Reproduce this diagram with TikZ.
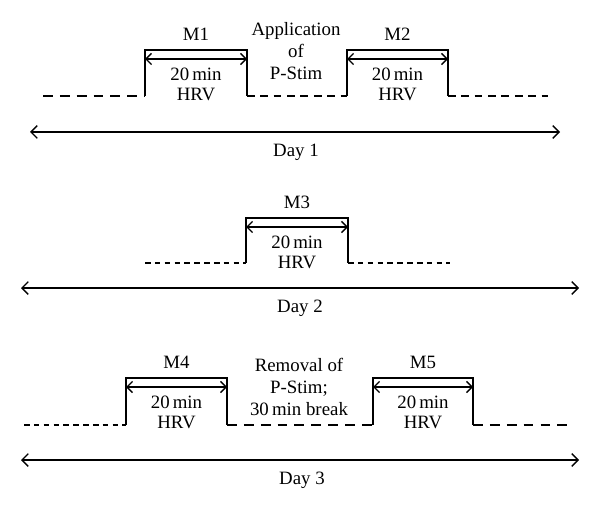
\documentclass[tikz,border=0pt]{standalone}
\usepackage{fontspec}
\setmainfont{Liberation Serif}
\usetikzlibrary{arrows.meta}

\tikzset{
	pulse/.style={line width=1pt},
	window/.style={line width=0.9pt, {Straight Barb[length=4pt,width=8pt]}-{Straight Barb[length=4pt,width=8pt]}},
	timeline/.style={line width=0.9pt, {Straight Barb[length=4.5pt,width=9pt]}-{Straight Barb[length=4.5pt,width=9pt]}},
	longdash/.style={line width=1pt, dash pattern=on 7pt off 5pt},
	middash/.style={line width=1pt, dash pattern=on 5.5pt off 4pt},
	shortdash/.style={line width=1pt, dash pattern=on 4pt off 3pt},
	txt/.style={font=\fontsize{13.4}{15.6}\selectfont, inner sep=0pt, align=center}
}

\begin{document}
\begin{tikzpicture}[x=0.025cm, y=-0.025cm]
	\useasboundingbox (0,0) rectangle (600,512);
	% measurement windows
	\foreach \n/\l/\r/\t/\b in {M1/145/247/50/96, M2/347/448/50/96, M3/246/348/218/263, M4/126/227/378/425, M5/373/473/378/425}{
		\coordinate (\n-l) at (\l,\b);
		\coordinate (\n-r) at (\r,\b);
		\coordinate (\n-al) at (\l,\t+9);
		\coordinate (\n-ar) at (\r,\t+9);
		\draw[pulse] (\n-l) -- (\l,\t) -- (\r,\t) -- (\n-r);
		\draw[window] (\n-al) -- (\n-ar);
		\node[txt] (\n) at ({(\l+\r)/2},\t-16) {\n};
		\node[txt] (\n-min) at ({(\l+\r)/2},\t+24) {20\,min};
		\node[txt] (\n-hrv) at ({(\l+\r)/2},\t+44) {HRV};
	}
	% rest periods
	\coordinate (d1s) at (43,96);
	\coordinate (d1e) at (548,96);
	\coordinate (d2s) at (145,263);
	\coordinate (d2e) at (450,263);
	\coordinate (d3s) at (24,425);
	\coordinate (d3e) at (573,425);
	\draw[longdash] (d1s) -- (M1-l);
	\draw[middash] (M1-r) -- (M2-l);
	\draw[middash] (M2-r) -- (d1e);
	\draw[shortdash] (d2s) -- (M3-l);
	\draw[shortdash] (M3-r) -- (d2e);
	\draw[shortdash] (d3s) -- (M4-l);
	\draw[longdash] (M4-r) -- (M5-l);
	\draw[longdash] (M5-r) -- (d3e);
	\node[txt] (apply) at (296,51) {Application\\of\\P-Stim};
	\node[txt] (remove) at (299,387) {Removal of\\P-Stim;\\30\,min break};
	% days
	\foreach \d/\a/\e/\y/\x in {1/30/560/132/296, 2/21/579/288/300, 3/21/579/460/302}{
		\coordinate (day\d-l) at (\a,\y);
		\coordinate (day\d-r) at (\e,\y);
		\draw[timeline] (day\d-l) -- (day\d-r);
		\node[txt] (day\d) at (\x,\y+20) {Day \d};
	}
\end{tikzpicture}
\end{document}
